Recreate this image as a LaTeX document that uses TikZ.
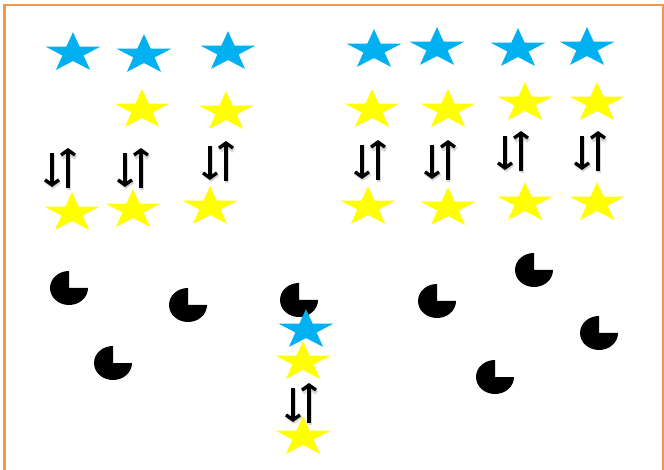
\documentclass[tikz,border=0pt]{standalone}
\usetikzlibrary{arrows.meta,shapes.geometric}
\definecolor{skyblue}{RGB}{0,176,240}
\definecolor{lemon}{RGB}{255,255,0}
\definecolor{frameorange}{RGB}{247,150,70}

\begin{document}
\begin{tikzpicture}[x=1pt, y=-1pt,
 bluestar/.style={star, star points=5, star point ratio=2.6, fill=skyblue, draw=none, minimum size=58pt, inner sep=0pt, yscale=.72, transform shape},
 yellowstar/.style={bluestar, fill=lemon},
 spin/.style={-{Straight Barb[length=5pt,width=14pt]}, line width=3.4pt},
 spinshade/.style={spin, black!30, opacity=.5, line width=4.6pt},
 pacman/.pic={\fill (0,0) -- (19,0) arc[start angle=0, end angle=270, x radius=19, y radius=17] -- cycle;},
 spinpair/.pic={\draw[spinshade] (-9,-16) -- (-9,19); \draw[spinshade] (7,20) -- (7,-20);
  \draw[spin] (-10,-17) -- (-10,17); \draw[spin] (6,18) -- (6,-22);}]
\useasboundingbox (0,0) rectangle (664,470);
% frame
\draw[frameorange, line width=3pt] (4.5,470) -- (4.5,5);
\draw[frameorange, line width=2.5pt] (3,5) -- (664,5);
\draw[frameorange, line width=1.5pt] (663,5) -- (663,470);
% left group
\node[bluestar] (b1) at (73,53) {};
\node[bluestar] (b2) at (144,55) {};
\node[bluestar] (b3) at (228,52) {};
\node[yellowstar] (u2) at (142,110) {};
\node[yellowstar] (u3) at (226,112) {};
\pic at (62,170) {spinpair};
\pic at (135,170) {spinpair};
\pic at (220,163) {spinpair};
\node[yellowstar] (d1) at (72,213) {};
\node[yellowstar] (d2) at (133,210) {};
\node[yellowstar] (d3) at (210,207) {};
% right group
\node[bluestar] (b4) at (374,50) {};
\node[bluestar] (b5) at (437,48) {};
\node[bluestar] (b6) at (518,49) {};
\node[bluestar] (b7) at (587,48) {};
\node[yellowstar] (u4) at (372,110) {};
\node[yellowstar] (u5) at (448,110) {};
\node[yellowstar] (u6) at (525,103) {};
\node[yellowstar] (u7) at (597,103) {};
\pic at (372,162) {spinpair};
\pic at (442,162) {spinpair};
\pic at (515,153) {spinpair};
\pic at (592,153) {spinpair};
\node[yellowstar] (d4) at (368,207) {};
\node[yellowstar] (d5) at (448,208) {};
\node[yellowstar] (d6) at (525,203) {};
\node[yellowstar] (d7) at (597,203) {};
% holes
\pic at (69,288) {pacman};
\pic at (188,305) {pacman};
\pic at (113,363) {pacman};
\pic at (299,300) {pacman};
\pic at (534,270) {pacman};
\pic at (437,301) {pacman};
\pic at (599,333) {pacman};
\pic at (495,377) {pacman};
% middle column
\node[bluestar] (b8) at (306,330) {};
\node[yellowstar] (u8) at (303,362) {};
\pic at (303,405) {spinpair};
\node[yellowstar] (d8) at (303,437) {};
\end{tikzpicture}
\end{document}
